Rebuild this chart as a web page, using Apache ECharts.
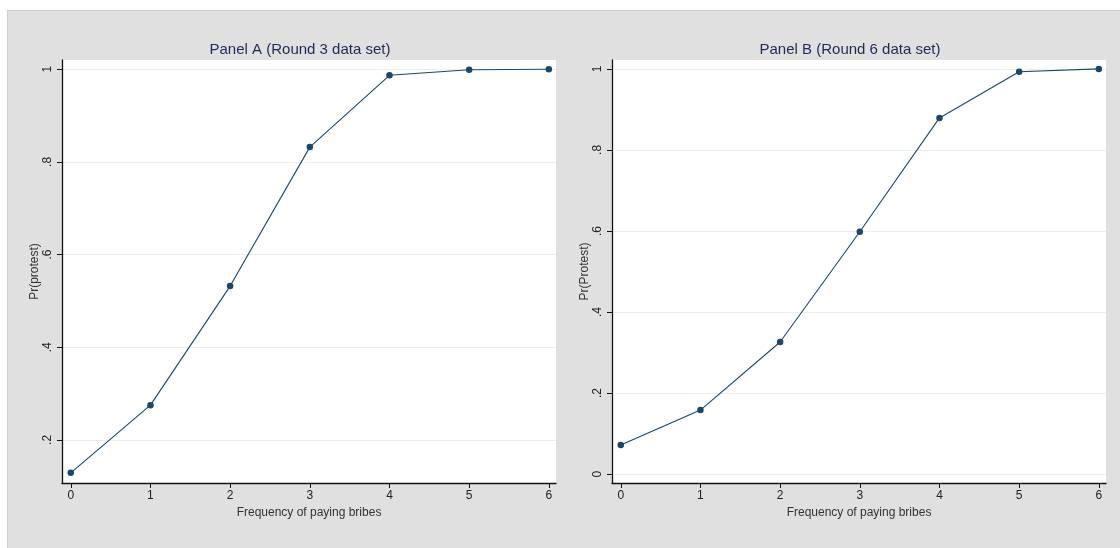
<!DOCTYPE html>
<html><head><meta charset="utf-8">
<script src="https://cdn.jsdelivr.net/npm/echarts@6/dist/echarts.min.js"></script>
<style>
html,body{margin:0;padding:0;background:#fff;}
#bg{position:absolute;left:7px;top:10px;width:1113px;height:538px;background:#e0e0e0;border-left:1px solid #cfcfcf;border-top:1px solid #cfcfcf;box-sizing:border-box;}
#c{position:absolute;left:0;top:0;width:1120px;height:548px;}
</style></head><body>
<div id="bg"></div><div id="c"></div>
<script>
const categories = [0, 1, 2, 3, 4, 5, 6];
const panelA = [0.129, 0.275, 0.532, 0.832, 0.987, 0.999, 1.0];
const panelB = [0.072, 0.158, 0.326, 0.598, 0.879, 0.993, 1.0];
const yTicksA = [0.2, 0.4, 0.6, 0.8, 1];
const yTicksB = [0, 0.2, 0.4, 0.6, 0.8, 1];
const xTicks = [0, 1, 2, 3, 4, 5, 6];
const titles = ['Panel A (Round 3 data set)', 'Panel B (Round 6 data set)'];
const yNames = ['Pr(protest)', 'Pr(Protest)'];
const xName = 'Frequency of paying bribes';

const narrow = "'Liberation Sans Narrow', 'Liberation Sans', Arial, sans-serif";
const lineColor = '#1a476f';
const fmt = v => v === 0 ? '0' : (v === 1 ? '1' : String(+v.toFixed(2)).replace(/^0/, ''));

function xAxis(gi) {
  return {
    type: 'value', gridIndex: gi, min: -0.11, max: 6.09,
    name: xName, nameLocation: 'middle', nameGap: 23,
    nameTextStyle: {fontFamily: narrow, fontSize: 12, color: '#333'},
    axisLine: {show: true, onZero: false, lineStyle: {color: '#111', width: 1.3}},
    axisTick: {show: true, length: 5, customValues: xTicks, lineStyle: {color: '#111'}},
    axisLabel: {customValues: xTicks, fontFamily: narrow, fontSize: 12, color: '#222', margin: 7},
    splitLine: {show: false}
  };
}
function yAxis(gi, min, max, ticks, name) {
  return {
    type: 'value', gridIndex: gi, min: min, max: max,
    name: name, nameLocation: 'middle', nameGap: 19, nameRotate: 90,
    nameTextStyle: {fontFamily: narrow, fontSize: 12, color: '#333'},
    axisLine: {show: true, onZero: false, lineStyle: {color: '#111', width: 1.3}},
    axisTick: {show: true, length: 5, customValues: ticks, lineStyle: {color: '#111'}},
    axisLabel: {customValues: ticks, rotate: 90, formatter: fmt, fontFamily: narrow, fontSize: 12, color: '#222', margin: 8},
    splitLine: {show: true, customValues: ticks, lineStyle: {color: '#e8eff0', width: 1}}
  };
}
function series(gi, data) {
  return {
    type: 'line', xAxisIndex: gi, yAxisIndex: gi,
    data: categories.map((c, i) => [c, data[i]]),
    symbol: 'circle', symbolSize: 6.5, showSymbol: true,
    lineStyle: {color: lineColor, width: 1.1},
    itemStyle: {color: lineColor},
    animation: false, silent: true
  };
}
const chart = echarts.init(document.getElementById('c'), null, {renderer: 'canvas'});
chart.setOption({
  backgroundColor: 'transparent',
  animation: false,
  title: [
    {text: titles[0], left: 295, top: 37, textAlign: 'center', textStyle: {fontFamily: "'Liberation Sans', Arial, sans-serif", fontSize: 15, fontWeight: 'normal', color: '#1e2a52'}},
    {text: titles[1], left: 845, top: 37, textAlign: 'center', textStyle: {fontFamily: "'Liberation Sans', Arial, sans-serif", fontSize: 15, fontWeight: 'normal', color: '#1e2a52'}}
  ],
  grid: [
    {left: 62, top: 60, width: 494, height: 423, backgroundColor: '#fff', show: true, borderWidth: 0},
    {left: 612, top: 60, width: 494, height: 423, backgroundColor: '#fff', show: true, borderWidth: 0}
  ],
  xAxis: [xAxis(0), xAxis(1)],
  yAxis: [yAxis(0, 0.107, 1.02, yTicksA, yNames[0]), yAxis(1, -0.022, 1.022, yTicksB, yNames[1])],
  series: [series(0, panelA), series(1, panelB)]
});
</script></body></html>
